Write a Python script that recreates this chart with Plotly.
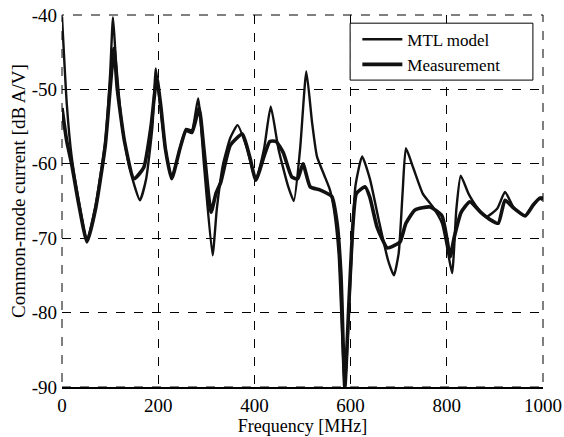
import plotly.graph_objects as go

# MTL model (thin line)
model_f = [0, 10, 20, 35, 52, 70, 90, 100, 106, 112, 125, 140, 162, 175, 188, 195, 202, 215, 228, 245, 258, 270, 283, 295, 313, 322, 335, 350, 365, 385, 403, 420, 434, 450, 470, 482, 495, 508, 520, 530, 545, 557, 565, 575, 588, 600, 610, 624, 640, 660, 678, 690, 700, 708, 715, 730, 750, 771, 790, 800, 811, 820, 829, 845, 865, 883, 905, 921, 940, 963, 980, 994, 1000]
model_db = [-40.2, -52, -59, -65, -70.3, -65.5, -57, -48, -40.3, -46, -55, -60.5, -64.9, -62, -55, -47.2, -51, -58, -61.9, -58, -55.3, -55.5, -51.2, -60, -72.3, -66, -60, -56.5, -54.8, -58, -62.2, -58, -52.3, -58, -63, -65, -58, -47.6, -54.5, -59, -61.5, -63.5, -66, -72, -90, -75, -63, -59, -62, -68, -73, -75, -72, -64, -57.9, -60.5, -64, -65.8, -68, -71, -74.7, -66, -61.6, -64, -66, -67.1, -66, -63.8, -66, -67, -65.5, -64.6, -64.5]

# Measurement (thick line)
meas_f = [0, 10, 20, 35, 52, 70, 90, 100, 108, 115, 130, 150, 170, 185, 197, 205, 215, 228, 245, 258, 270, 285, 295, 310, 320, 330, 350, 375, 390, 403, 420, 432, 445, 460, 478, 490, 501, 516, 536, 561, 572, 580, 588, 597, 605, 612, 630, 640, 655, 676, 690, 703, 715, 734, 765, 790, 800, 807, 815, 830, 848, 870, 890, 907, 921, 940, 963, 980, 994, 1000]
meas_db = [-52.5, -57, -60, -65.5, -70.5, -66, -57.5, -50, -44.5, -50, -57, -62, -60.5, -55, -48.5, -52, -58, -62, -58, -55.5, -55.8, -52.5, -58, -66.5, -64, -62.5, -57.5, -56, -59, -62.2, -59, -57, -57, -58.5, -61.8, -62, -60, -63.1, -63.5, -64.4, -68, -75, -90, -78, -68, -64, -63.1, -64.5, -68.5, -71.3, -71, -70.5, -68, -66.2, -65.8, -67, -70, -72.5, -70, -66.5, -65.1, -66.5, -67.5, -68, -64.9, -66, -67, -65.5, -64.6, -64.8]

y_ticks = [-90, -80, -70, -60, -50, -40]
y_ticktext = ["-90", "-80", "-70", "-60", "-50", "-40"]
x_ticks = [0, 200, 400, 600, 800, 1000]
x_ticktext = ["0", "200", "400", "600", "800", "1000"]

font_family = "Liberation Serif"

fig = go.Figure()
fig.add_trace(go.Scatter(x=model_f, y=model_db, mode="lines", name="MTL model",
                         line=dict(color="#111111", width=2.4, shape="spline", smoothing=0.5)))
fig.add_trace(go.Scatter(x=meas_f, y=meas_db, mode="lines", name="Measurement",
                         line=dict(color="#111111", width=3.6, shape="spline", smoothing=0.5)))

# dashed frame (top, left, right) like the reference
fig.add_shape(type="rect", xref="paper", yref="paper", x0=0, y0=0, x1=1, y1=1,
              line=dict(color="black", width=1, dash="dash"), layer="below")
# legend frame (white box with thin black border)
fig.add_shape(type="rect", xref="paper", yref="paper", x0=0.599, y0=0.825, x1=0.979, y1=0.978,
              line=dict(color="black", width=1), fillcolor="white", layer="above")

fig.update_layout(
    width=564, height=437,
    margin=dict(l=62, r=21, t=15, b=50, autoexpand=False),
    paper_bgcolor="white", plot_bgcolor="white",
    font=dict(family=font_family, size=18, color="black"),
    showlegend=True,
    legend=dict(x=0.614, y=0.982, xanchor="left", yanchor="top",
                bgcolor="rgba(0,0,0,0)", borderwidth=0,
                font=dict(family=font_family, size=17, color="black"),
                itemwidth=40, tracegroupgap=0),
    xaxis=dict(range=[0, 1000], tickmode="array", tickvals=x_ticks, ticktext=x_ticktext,
               automargin=False, ticklabeloverflow="allow",
               showgrid=True, gridcolor="black", griddash="dash", gridwidth=1,
               showline=True, linecolor="black", linewidth=1.5, mirror=False,
               zeroline=False, ticks="", ticklen=0,
               tickfont=dict(family=font_family, size=19),
               title=dict(text="Frequency [MHz]", standoff=0,
                          font=dict(family=font_family, size=18))),
    yaxis=dict(range=[-90, -40], tickmode="array", tickvals=y_ticks, ticktext=y_ticktext,
               automargin=False, ticklabelstandoff=4, ticklabeloverflow="allow",
               showgrid=True, gridcolor="black", griddash="dash", gridwidth=1,
               showline=False, zeroline=False, ticks="", ticklen=0,
               tickfont=dict(family=font_family, size=19)),
    annotations=[dict(text="Common-mode current [dB A/V]", xref="paper", yref="paper",
                      x=-0.0894, y=0.527, xanchor="center", yanchor="middle",
                      textangle=-90, showarrow=False,
                      font=dict(family=font_family, size=19, color="black"))],
)

# remove the default 8px body margin so the figure fills the window exactly
fig.write_html("out.html", config={"displayModeBar": False},
               post_script="document.body.style.margin='0';")
